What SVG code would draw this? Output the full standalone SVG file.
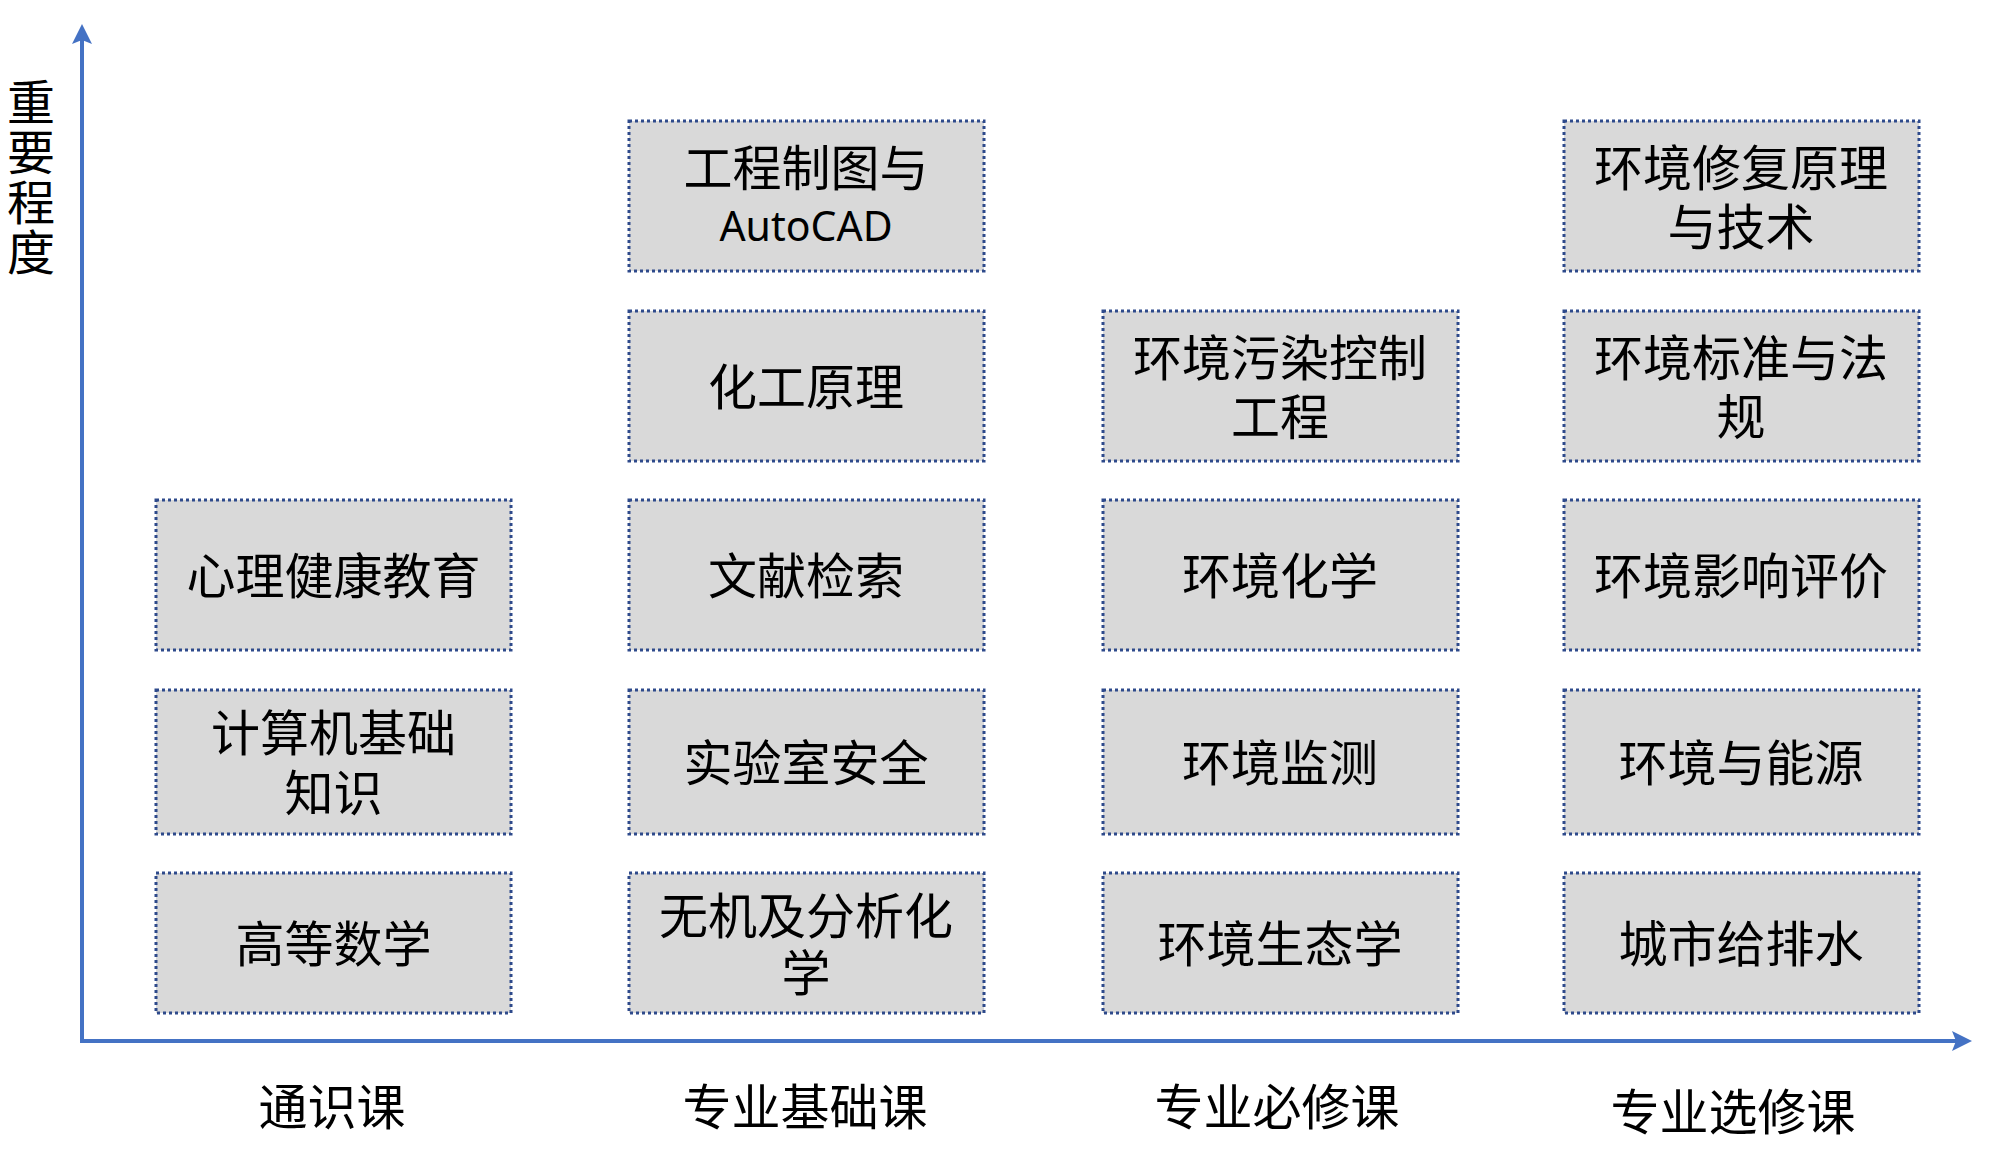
<svg xmlns="http://www.w3.org/2000/svg" width="2000" height="1161" viewBox="0 0 2000 1161">
<style>
.box{fill:#D9D9D9;stroke:#2E4A8B;stroke-width:3;stroke-dasharray:3 3}
.t{font-family:"Noto Sans CJK SC","Noto Sans",sans-serif;font-size:49px;fill:#000;text-anchor:middle;dominant-baseline:central}
.lat{font-family:"Noto Sans","Liberation Sans",sans-serif;font-size:41px}
.vt{font-family:"Noto Sans CJK SC",sans-serif;font-size:48px;fill:#000;writing-mode:vertical-rl;letter-spacing:2px}
.axis{fill:none;stroke:#4472C4;stroke-width:4}
</style>
<defs>
<marker id="arr" markerUnits="userSpaceOnUse" markerWidth="22" markerHeight="22" viewBox="0 0 22 22" refX="8" refY="11" orient="auto-start-reverse">
<path d="M0,1 L20,11 L0,21 L4,11 Z" fill="#4472C4"/>
</marker>
</defs>
<rect width="2000" height="1161" fill="#fff"/>
<g id="connectors">
<path class="axis" d="M82,36 L82,1041 L1960,1041" marker-start="url(#arr)" marker-end="url(#arr)"/>
</g>
<g id="axis-labels">
<text class="vt" x="31" y="78">重要程度</text>
<text class="t" x="332" y="1103">通识课</text>
<text class="t" x="805" y="1103">专业基础课</text>
<text class="t" x="1277" y="1103">专业必修课</text>
<text class="t" x="1733" y="1108">专业选修课</text>
</g>
<g id="n-c1r3"><rect class="box" x="156" y="500" width="355" height="150"/><text class="t" x="333.5" y="572">心理健康教育</text></g>
<g id="n-c1r4"><rect class="box" x="156" y="690" width="355" height="144"/><text class="t"><tspan x="333.5" y="729">计算机基础</tspan><tspan x="333.5" y="789">知识</tspan></text></g>
<g id="n-c1r5"><rect class="box" x="156" y="873" width="355" height="140"/><text class="t" x="333.5" y="940">高等数学</text></g>
<g id="n-c2r1"><rect class="box" x="629" y="121" width="355" height="150"/><text class="t"><tspan x="806" y="164">工程制图与</tspan><tspan class="lat" x="806" y="225">AutoCAD</tspan></text></g>
<g id="n-c2r2"><rect class="box" x="629" y="311" width="355" height="150"/><text class="t" x="806" y="383">化工原理</text></g>
<g id="n-c2r3"><rect class="box" x="629" y="500" width="355" height="150"/><text class="t" x="806" y="572">文献检索</text></g>
<g id="n-c2r4"><rect class="box" x="629" y="690" width="355" height="144"/><text class="t" x="806" y="759">实验室安全</text></g>
<g id="n-c2r5"><rect class="box" x="629" y="873" width="355" height="140"/><text class="t"><tspan x="806" y="912">无机及分析化</tspan><tspan x="806" y="969">学</tspan></text></g>
<g id="n-c3r2"><rect class="box" x="1103" y="311" width="355" height="150"/><text class="t"><tspan x="1280" y="354">环境污染控制</tspan><tspan x="1280" y="413">工程</tspan></text></g>
<g id="n-c3r3"><rect class="box" x="1103" y="500" width="355" height="150"/><text class="t" x="1280" y="572">环境化学</text></g>
<g id="n-c3r4"><rect class="box" x="1103" y="690" width="355" height="144"/><text class="t" x="1280" y="759">环境监测</text></g>
<g id="n-c3r5"><rect class="box" x="1103" y="873" width="355" height="140"/><text class="t" x="1280" y="940">环境生态学</text></g>
<g id="n-c4r1"><rect class="box" x="1564" y="121" width="355" height="150"/><text class="t"><tspan x="1741" y="164">环境修复原理</tspan><tspan x="1741" y="223">与技术</tspan></text></g>
<g id="n-c4r2"><rect class="box" x="1564" y="311" width="355" height="150"/><text class="t"><tspan x="1741" y="354">环境标准与法</tspan><tspan x="1741" y="413">规</tspan></text></g>
<g id="n-c4r3"><rect class="box" x="1564" y="500" width="355" height="150"/><text class="t" x="1741" y="572">环境影响评价</text></g>
<g id="n-c4r4"><rect class="box" x="1564" y="690" width="355" height="144"/><text class="t" x="1741" y="759">环境与能源</text></g>
<g id="n-c4r5"><rect class="box" x="1564" y="873" width="355" height="140"/><text class="t" x="1741" y="940">城市给排水</text></g>
</svg>
